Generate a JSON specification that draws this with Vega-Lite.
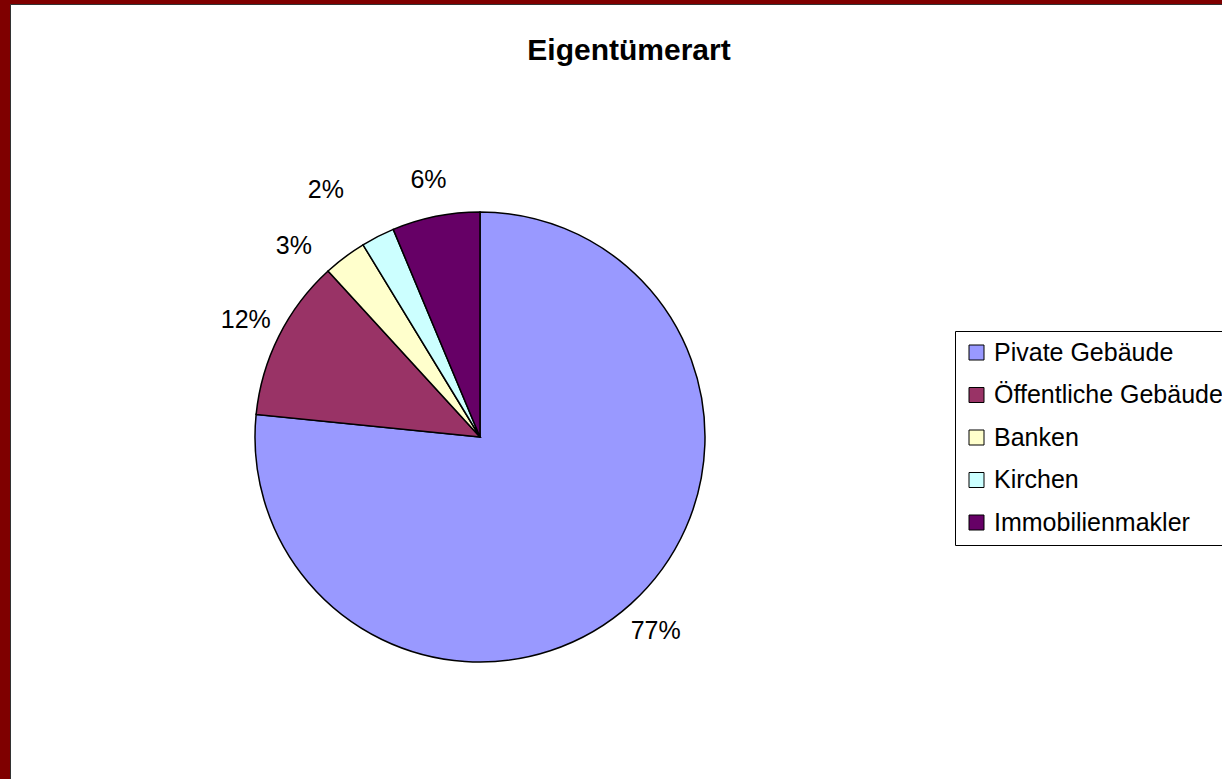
{
  "$schema": "https://vega.github.io/schema/vega-lite/v6.json",
  "width": 1212,
  "height": 775,
  "autosize": {"type": "none"},
  "padding": {"left": 10, "top": 4, "right": 0, "bottom": 0},
  "background": "#7f0000",
  "view": {"fill": "white", "stroke": "#333333", "strokeWidth": 1},
  "title": {
    "text": "Eigentümerart",
    "font": "Liberation Sans",
    "fontSize": 30,
    "fontWeight": "bold",
    "color": "black",
    "anchor": "middle",
    "frame": "group",
    "offset": -62,
    "dx": 13
  },
  "data": {
    "values": [
      {"type": "Pivate Gebäude", "share": 0.766, "rank": 1},
      {"type": "Öffentliche Gebäude", "share": 0.116, "rank": 2},
      {"type": "Banken", "share": 0.031, "rank": 3},
      {"type": "Kirchen", "share": 0.024, "rank": 4},
      {"type": "Immobilienmakler", "share": 0.063, "rank": 5}
    ]
  },
  "encoding": {
    "theta": {"field": "share", "type": "quantitative", "stack": true},
    "order": {"field": "rank", "type": "quantitative"}
  },
  "layer": [
    {
      "mark": {"type": "arc", "radius": 225, "x": 470, "y": 433, "stroke": "black", "strokeWidth": 1.5},
      "encoding": {
        "color": {
          "field": "type",
          "type": "nominal",
          "sort": ["Pivate Gebäude", "Öffentliche Gebäude", "Banken", "Kirchen", "Immobilienmakler"],
          "scale": {
            "domain": ["Pivate Gebäude", "Öffentliche Gebäude", "Banken", "Kirchen", "Immobilienmakler"],
            "range": ["#9999ff", "#993366", "#ffffcc", "#ccffff", "#660066"]
          },
          "legend": {
            "orient": "none",
            "legendX": 945,
            "legendY": 327,
            "title": null,
            "symbolType": "square",
            "symbolSize": 225,
            "symbolStrokeColor": "black",
            "symbolStrokeWidth": 1,
            "symbolOffset": 0,
            "labelFont": "Liberation Sans",
            "labelFontSize": 25,
            "labelColor": "black",
            "labelOffset": 5,
            "labelLimit": 0,
            "strokeColor": "black",
            "fillColor": "white",
            "padding": 9,
            "rowPadding": 16.5
          }
        }
      }
    },
    {
      "mark": {"type": "text", "radius": 262, "x": 470, "y": 433, "font": "Liberation Sans", "fontSize": 25, "color": "black"},
      "encoding": {
        "text": {"condition": {"test": "datum.share >= 0.05", "field": "share", "type": "quantitative", "format": ".0%"}, "value": ""}
      }
    },
    {
      "mark": {"type": "text", "radius": 267, "thetaOffset": -0.127, "x": 470, "y": 433, "font": "Liberation Sans", "fontSize": 25, "color": "black"},
      "encoding": {
        "text": {"condition": {"test": "datum.type === 'Banken'", "field": "share", "type": "quantitative", "format": ".0%"}, "value": ""}
      }
    },
    {
      "mark": {"type": "text", "radius": 291, "thetaOffset": -0.087, "x": 470, "y": 433, "font": "Liberation Sans", "fontSize": 25, "color": "black"},
      "encoding": {
        "text": {"condition": {"test": "datum.type === 'Kirchen'", "field": "share", "type": "quantitative", "format": ".0%"}, "value": ""}
      }
    }
  ]
}
